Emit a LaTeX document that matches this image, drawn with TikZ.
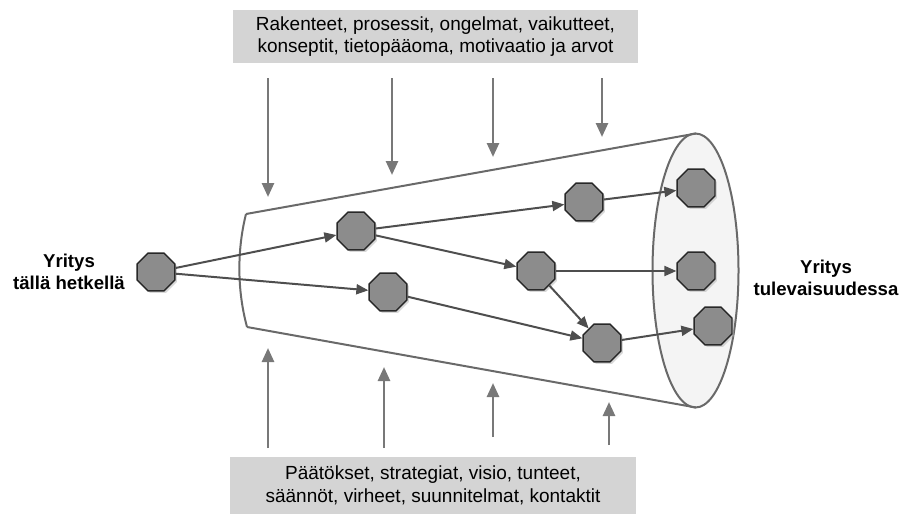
\documentclass[tikz,border=0pt]{standalone}
\usepackage{fontspec}
\setmainfont{Liberation Sans}
\usetikzlibrary{shapes.geometric,arrows.meta,shadows}

\definecolor{boxgray}{RGB}{212,212,212}
\definecolor{nodegray}{RGB}{140,140,140}
\definecolor{nodeedge}{RGB}{40,40,40}
\definecolor{flowgray}{RGB}{78,78,78}
\definecolor{forcegray}{RGB}{120,120,120}
\definecolor{conegray}{RGB}{105,105,105}
\definecolor{mouthgray}{RGB}{244,244,244}

\begin{document}
\begin{tikzpicture}[x=1pt,y=-1pt,
  state/.style={regular polygon, regular polygon sides=8, minimum size=41pt,
    inner sep=0pt, fill=nodegray, draw=nodeedge, line width=1.4pt,
    drop shadow={shadow xshift=2pt, shadow yshift=-2pt, fill=black!30, opacity=0.5}},
  flow/.style={draw=flowgray, line width=2pt, -{Triangle[length=12pt,width=10pt]}},
  force/.style={draw=forcegray, line width=2.6pt, -{Triangle[length=14pt,width=12pt]}},
  infobox/.style={fill=boxgray, align=center, inner sep=0pt,
    font=\fontsize{19}{22.5}\selectfont},
  side/.style={align=center, font=\bfseries\fontsize{18.6}{22}\selectfont},
  cone/.style={draw=conegray, line width=2pt}
]
\useasboundingbox (0,0) rectangle (904,514);

% information boxes
\node[infobox, minimum width=405pt, minimum height=53pt] (top) at (435.5,36.5)
  {Rakenteet, prosessit, ongelmat, vaikutteet,\\konseptit, tietopääoma, motivaatio ja arvot};
\node[infobox, minimum width=406pt, minimum height=57pt] (bottom) at (433,485.5)
  {Päätökset, strategiat, visio, tunteet,\\säännöt, virheet, suunnitelmat, kontaktit};

% the cone
\fill[mouthgray] (695.5,270.5) ellipse [x radius=43, y radius=137];
\draw[cone] (246,214) -- (696,133.5);
\draw[cone] (247,327) -- (696,407.5);
\draw[cone] (246,214) .. controls (237,250) and (237,290) .. (247,327);
\draw[cone] (695.5,270.5) ellipse [x radius=43, y radius=137];

% influences from above
\foreach \i/\x/\yb in {1/268/197, 2/392/175, 3/493/157, 4/602/137} {
  \coordinate (ta\i) at (\x,78);
  \coordinate (tb\i) at (\x,\yb);
  \draw[force] (ta\i) -- (tb\i);
}
% influences from below
\foreach \i/\x/\ya/\yb in {1/268/448/348, 2/384/448/367, 3/493/437/383, 4/609/445/402} {
  \coordinate (ba\i) at (\x,\ya);
  \coordinate (bb\i) at (\x,\yb);
  \draw[force] (ba\i) -- (bb\i);
}

% states
\node[state] (n0) at (156,272) {};
\node[state] (n1) at (356,231) {};
\node[state] (n2) at (388,292) {};
\node[state] (n3) at (584,202) {};
\node[state] (n4) at (696,188) {};
\node[state] (n5) at (536,271) {};
\node[state] (n6) at (696,271) {};
\node[state] (n7) at (602,343) {};
\node[state] (n8) at (713,326) {};

% paths between states
\draw[flow] (n0) -- (n1);
\draw[flow] (n0) -- (n2);
\draw[flow] (n1) -- (n3);
\draw[flow] (n1) -- (n5);
\draw[flow] (n3) -- (n4);
\draw[flow] (n5) -- (n6);
\draw[flow] (n5) -- (n7);
\draw[flow] (n2) -- (n7);
\draw[flow] (n7) -- (n8);

% side labels
\node[side] (now) at (69,272) {Yritys\\tällä hetkellä};
\node[side] (future) at (826,278) {Yritys\\tulevaisuudessa};
\end{tikzpicture}
\end{document}
